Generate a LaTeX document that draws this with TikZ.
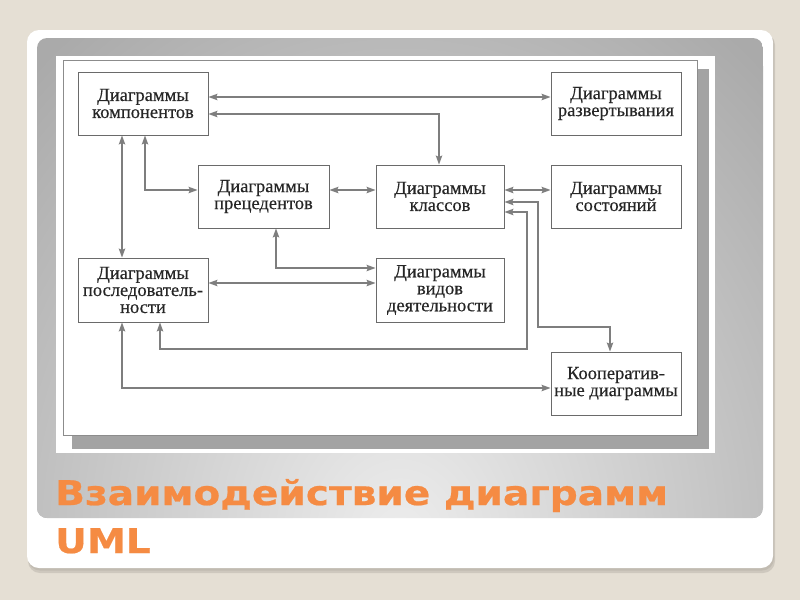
\documentclass[tikz,border=0pt]{standalone}
\usepackage{fontspec}
\setmainfont{Liberation Serif}
\newfontfamily\boxfont[FakeBold=0.35]{Liberation Serif}
\newfontfamily\titlefont[FakeStretch=1.15,FakeBold=0.6]{DejaVu Sans}
\usetikzlibrary{arrows.meta}
\definecolor{bg}{HTML}{E5DFD4}
\definecolor{cardshadow}{HTML}{B9B3A9}
\definecolor{panelout}{HTML}{AAAAAA}
\definecolor{panelin}{HTML}{EDEDED}
\definecolor{imgshadow}{HTML}{A3A3A3}
\definecolor{framec}{HTML}{8C8C8C}
\definecolor{boxgray}{HTML}{6A6A6A}
\definecolor{arrgray}{HTML}{7E7E7E}
\definecolor{txt}{HTML}{262626}
\definecolor{titleorange}{HTML}{F58B43}
\begin{document}
\begin{tikzpicture}[x=1pt,y=-1pt,
  box/.style={draw=boxgray, line width=1pt, fill=white, minimum width=130pt, minimum height=63pt,
    inner sep=0pt, align=center, font=\boxfont\fontsize{18.5}{17}\selectfont, text=txt},
  arr/.style={draw=arrgray, line width=1.1pt,
    {Stealth[length=9pt,width=6.5pt,inset=1.5pt]}-{Stealth[length=9pt,width=6.5pt,inset=1.5pt]}},
  titletext/.style={anchor=base west, inner sep=0pt, font=\titlefont\bfseries\fontsize{34}{48}\selectfont}]
\useasboundingbox (0,0) rectangle (800,600);
\fill[bg] (0,0) rectangle (800,600);
% card
\fill[cardshadow, opacity=0.5, rounded corners=12pt] (28,33) rectangle (775,573);
\fill[cardshadow, opacity=0.6, rounded corners=12pt] (28,32) rectangle (774,570.5);
\fill[white, rounded corners=12pt] (27,30) rectangle (773,568);
% panel
\begin{scope}
  \clip[rounded corners=10pt] (37,38) rectangle (763,518);
  \fill[panelout] (37,38) rectangle (763,518);
  \shade[inner color=panelin, outer color=panelout] (400,540) ellipse [x radius=540pt, y radius=640pt];
\end{scope}
% diagram picture
\fill[white] (56,56) rectangle (715,453);
\fill[imgshadow] (72,69) rectangle (709,449);
\draw[framec, fill=white, line width=0.8pt] (63,60) rectangle (697,435);
% boxes
\node[box] (comp)  at (143,103.5) {Диаграммы\\компонентов};
\node[box] (dep)   at (616,103.5) {Диаграммы\\развертывания};
\node[box, minimum width=131pt] (prec) at (263.5,196.5) {Диаграммы\\прецедентов};
\node[box, minimum width=128pt] (cls)  at (440,196.5) {Диаграммы\\классов};
\node[box] (state) at (616,196.5) {Диаграммы\\состояний};
\node[box, minimum height=64pt] (seq) at (143,290) {Диаграммы\\последователь-\\ности};
\node[box, minimum width=128pt, minimum height=64pt] (act) at (440,290) {Диаграммы\\видов\\деятельности};
\node[box] (coop)  at (616,383.5) {Кооператив-\\ные диаграммы};
% connectors
\draw[arr] ([yshift=6.5pt]comp.east) -- ([yshift=6.5pt]dep.west);
\draw[arr] ([yshift=-10.5pt]comp.east) -| ([xshift=-1pt]cls.north);
\draw[arr] ([xshift=-21pt]comp.south) -- ([xshift=-21pt]seq.north);
\draw[arr] ([xshift=2pt]comp.south) |- ([yshift=6.5pt]prec.west);
\draw[arr] ([yshift=6.5pt]prec.east) -- ([yshift=6.5pt]cls.west);
\draw[arr] ([yshift=6.5pt]cls.east) -- ([yshift=6.5pt]state.west);
\draw[arr] ([xshift=12.5pt]prec.south) |- ([yshift=22pt]act.west);
\draw[arr] ([yshift=7pt]seq.east) -- ([yshift=7pt]act.west);
\draw[arr] ([yshift=-5.5pt]cls.east) -- (538,202) -- (538,327) -| ([xshift=-6pt]coop.north);
\draw[arr] ([yshift=-15.5pt]cls.east) -- (527,212) -- (527,349) -| ([xshift=17pt]seq.south);
\draw[arr] ([xshift=-21pt]seq.south) |- ([yshift=-4.5pt]coop.west);
% title
\node[titletext, text=titleorange] (t1) at (55,505) {Взаимодействие диаграмм};
\node[titletext, text=titleorange] (t2) at (55,553) {UML};
\end{tikzpicture}
\end{document}
